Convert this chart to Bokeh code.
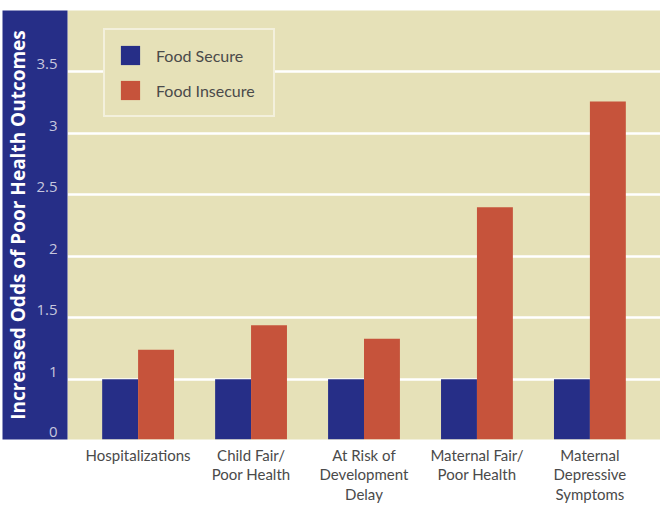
from bokeh.plotting import figure
from bokeh.models import Range1d, FixedTicker, Legend, LegendItem, ColumnDataSource
from bokeh.transform import dodge
from bokeh.embed import file_html
from bokeh.resources import INLINE

categories = ["Hospitalizations", "Child Fair/\nPoor Health", "At Risk of\nDevelopment\nDelay",
              "Maternal Fair/\nPoor Health", "Maternal\nDepressive\nSymptoms"]
food_secure = [1.0, 1.0, 1.0, 1.0, 1.0]
food_insecure = [1.24, 1.44, 1.33, 2.40, 3.26]
y_ticks = [0.51, 1.0, 1.5, 2.0, 2.5, 3.0, 3.5]
y_tick_labels = ["0", "1", "1.5", "2", "2.5", "3", "3.5"]
grid_ticks = [1.0, 1.5, 2.0, 2.5, 3.0, 3.5]

NAVY = "#262E87"
RED = "#C6533B"
BEIGE = "#E6E1B8"
TEXT = "#4a4a4a"
LABEL_SHIFT = 0.062  # tick labels sit slightly above their gridlines

idx = list(range(len(categories)))
src = ColumnDataSource(dict(x=idx, secure=food_secure, insecure=food_insecure))

p = figure(width=660, height=506, output_backend="svg", toolbar_location=None,
           x_range=Range1d(-0.625, len(categories) - 0.375), y_range=Range1d(0.51, 4.0),
           min_border_top=10, min_border_right=0, min_border_left=67, min_border_bottom=66)
p.background_fill_color = BEIGE
p.border_fill_color = "white"
p.outline_line_color = None

r1 = p.vbar(x=dodge("x", -0.159, range=p.x_range), top="secure", width=0.318, source=src,
            fill_color=NAVY, line_color=None)
r2 = p.vbar(x=dodge("x", 0.159, range=p.x_range), top="insecure", width=0.318, source=src,
            fill_color=RED, line_color=None)

# grid
p.xgrid.visible = False
p.ygrid.ticker = FixedTicker(ticks=grid_ticks)
p.ygrid.grid_line_color = "white"
p.ygrid.grid_line_width = 2.5

# y axis
label_pos = [t + LABEL_SHIFT for t in y_ticks]
ya = p.yaxis[0]
ya.ticker = FixedTicker(ticks=label_pos)
ya.major_label_overrides = {t: l for t, l in zip(label_pos, y_tick_labels)}
ya.axis_line_color = None
ya.major_tick_line_color = None
ya.minor_tick_line_color = None
ya.major_tick_out = 0
ya.minor_tick_out = 0
ya.major_tick_in = 0
ya.major_label_text_color = "#C6C7DE"
ya.major_label_text_font = "Open Sans"
ya.major_label_text_font_size = "15px"
ya.major_label_standoff = 10
ya.axis_label = "Increased Odds of Poor Health Outcomes"
ya.axis_label_text_color = "white"
ya.axis_label_text_font = "Open Sans"
ya.axis_label_text_font_style = "bold"
ya.axis_label_text_font_size = "19px"
ya.axis_label_standoff = 2
ya.background_fill_color = NAVY

# x axis
xa = p.xaxis[0]
xa.ticker = FixedTicker(ticks=idx)
xa.major_label_overrides = {i: c for i, c in zip(idx, categories)}
xa.axis_line_color = None
xa.major_tick_line_color = None
xa.minor_tick_line_color = None
xa.major_tick_out = 0
xa.minor_tick_out = 0
xa.major_tick_in = 0
xa.major_label_text_color = TEXT
xa.major_label_text_font = "Lato"
xa.major_label_text_font_size = "15px"
xa.major_label_text_line_height = 1.1
xa.major_label_standoff = 6

legend = Legend(items=[LegendItem(label="Food Secure", renderers=[r1]),
                       LegendItem(label="Food Insecure", renderers=[r2])],
                location=(36, 322))
legend.glyph_width = 24
legend.glyph_height = 24
legend.label_standoff = 14
legend.padding = 13
legend.spacing = 11
legend.margin = 0
legend.label_width = 104
legend.label_text_font = "Lato"
legend.label_text_font_size = "16px"
legend.label_text_color = TEXT
legend.border_line_color = "white"
legend.border_line_width = 2.5
legend.background_fill_color = BEIGE
legend.background_fill_alpha = 1.0
p.add_layout(legend)

open("out.html", "w").write(file_html(p, INLINE))
